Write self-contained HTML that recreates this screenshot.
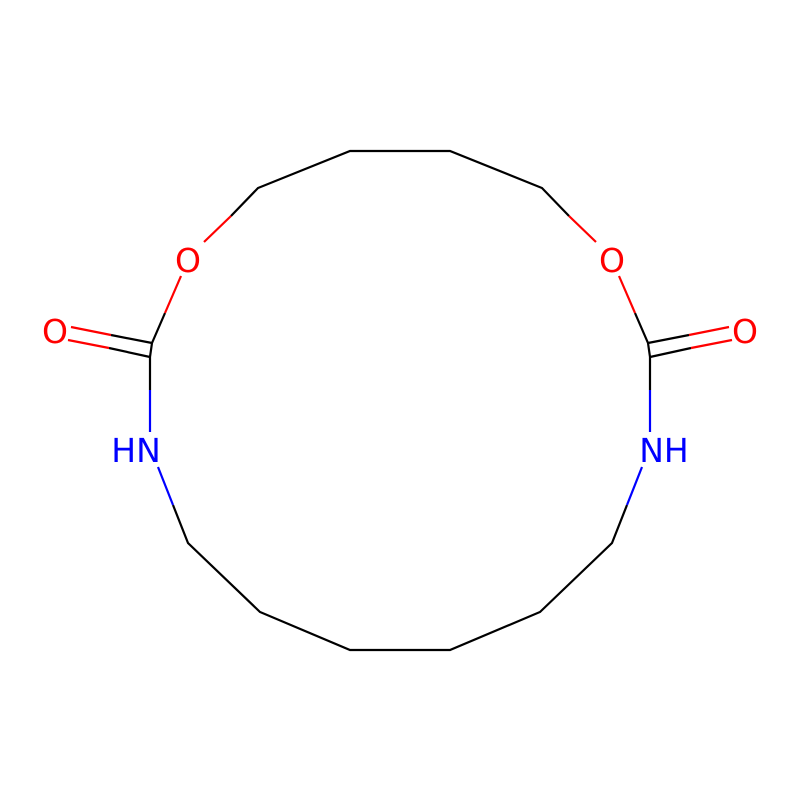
<!DOCTYPE html>
<html><head><style>body{margin:0;background:#fff}</style></head><body>
<svg width="800" height="800" xmlns="http://www.w3.org/2000/svg" style="display:block">
<rect width="800" height="800" fill="#fff"/>
<g stroke-width="2.2" fill="none" stroke-linecap="butt">
<g stroke="#000">
<polyline points="231,216 258,188 350,151 450,151 542,188 569,216"/>
<polyline points="173,505 188,543 260,612 350,650 450,650 540,612 612,543 627,505"/>
<polyline points="165,313 152,343 150,357 150,390"/>
<polyline points="635,313 648,343 650,357 650,390"/>
<line x1="111" y1="335" x2="152" y2="343"/>
<line x1="109" y1="348" x2="150" y2="357"/>
<line x1="689" y1="335" x2="648" y2="343"/>
<line x1="691" y1="348" x2="650" y2="357"/>
</g>
<g stroke="#f00">
<line x1="204" y1="242" x2="231" y2="216"/>
<line x1="181" y1="276" x2="165" y2="313"/>
<line x1="71" y1="327" x2="111" y2="335"/>
<line x1="68" y1="340" x2="109" y2="348"/>
<line x1="596" y1="242" x2="569" y2="216"/>
<line x1="619" y1="276" x2="635" y2="313"/>
<line x1="729" y1="327" x2="689" y2="335"/>
<line x1="732" y1="340" x2="691" y2="348"/>
</g>
<g stroke="#00f">
<line x1="150" y1="390" x2="150" y2="432"/>
<line x1="158" y1="467" x2="173" y2="505"/>
<line x1="650" y1="390" x2="650" y2="432"/>
<line x1="642" y1="467" x2="627" y2="505"/>
</g>
</g>
<g font-family="'DejaVu Sans','Liberation Sans',sans-serif" font-size="33" text-anchor="middle">
<text x="188" y="272" fill="#f00">O</text>
<text x="612" y="272" fill="#f00">O</text>
<text x="55" y="343" fill="#f00">O</text>
<text x="745" y="343" fill="#f00">O</text>
<text x="136" y="462" fill="#00f">HN</text>
<text x="664" y="462" fill="#00f">NH</text>
</g>
</svg>
</body></html>
